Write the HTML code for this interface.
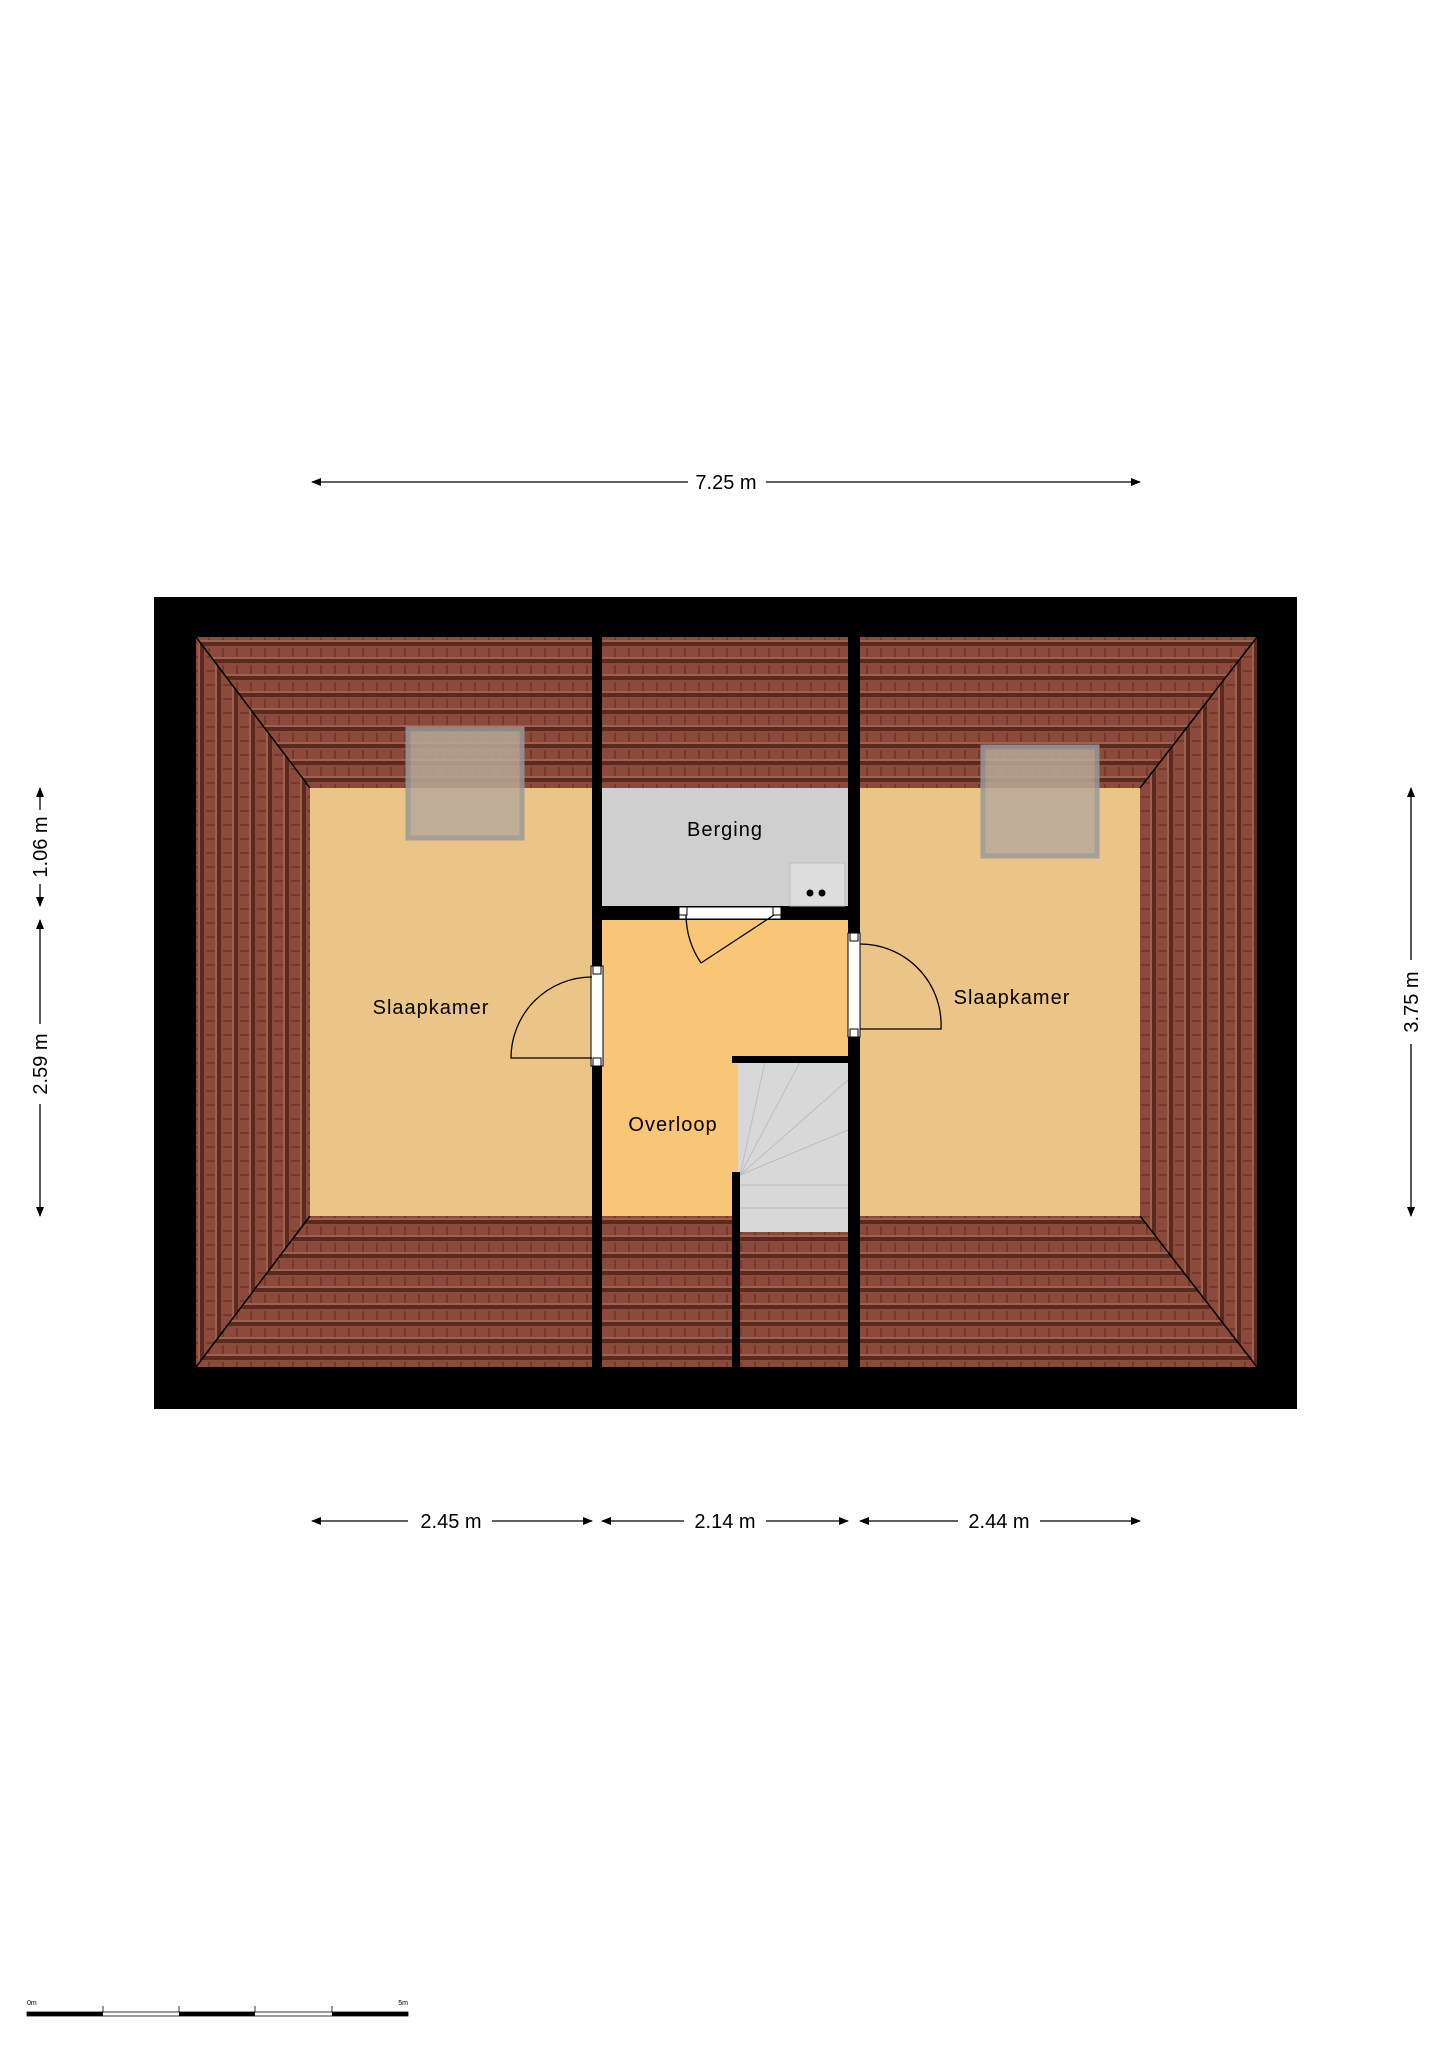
<!DOCTYPE html>
<html><head><meta charset="utf-8"><style>html,body{margin:0;padding:0;background:#fff}svg{display:block}</style></head><body>
<svg width="1448" height="2048" viewBox="0 0 1448 2048" xmlns="http://www.w3.org/2000/svg" font-family="Liberation Sans, sans-serif">
<defs>
<pattern id="th" width="14" height="17" patternUnits="userSpaceOnUse">
<rect width="14" height="17" fill="#8b4a3b"/>
<rect y="13" width="14" height="4" fill="#5a2a20"/>
<rect x="12" y="2" width="2" height="11" fill="#74392c"/>
<rect y="11" width="14" height="2" fill="#a0604e"/>
</pattern>
<pattern id="tv" width="17" height="14" patternUnits="userSpaceOnUse">
<rect width="17" height="14" fill="#8b4a3b"/>
<rect x="13" width="4" height="14" fill="#5a2a20"/>
<rect x="2" y="12" width="11" height="2" fill="#74392c"/>
<rect x="11" width="2" height="14" fill="#a0604e"/>
</pattern>
<marker id="ar" markerWidth="10" markerHeight="8" refX="9" refY="4" orient="auto-start-reverse" markerUnits="userSpaceOnUse"><path d="M0,0 L10,4 L0,8z" fill="#000"/></marker>
</defs>
<rect x="154" y="597" width="1143" height="812" fill="#000"/>
<!-- roof -->
<rect x="196" y="637" width="1061" height="730" fill="url(#th)"/>
<polygon points="196,637 310,788 310,1216 196,1367" fill="url(#tv)"/>
<polygon points="1257,637 1140,788 1140,1216 1257,1367" fill="url(#tv)"/>
<g stroke="#000" stroke-width="1.5"><line x1="196" y1="637" x2="310" y2="788"/><line x1="196" y1="1367" x2="310" y2="1216"/><line x1="1257" y1="637" x2="1140" y2="788"/><line x1="1257" y1="1367" x2="1140" y2="1216"/></g>
<!-- floors -->
<rect x="310" y="788" width="282" height="428" fill="#ebc487"/>
<rect x="860" y="788" width="280" height="428" fill="#ebc487"/>
<rect x="602" y="788" width="246" height="118" fill="#cfcfcf"/>
<rect x="602" y="920" width="246" height="296" fill="#f9c678"/>
<!-- stairs -->
<rect x="738" y="1062" width="110" height="170" fill="#d8d8d8"/>
<g stroke="#bdbdbd" stroke-width="1" fill="none"><line x1="740" y1="1175" x2="765" y2="1062"/><line x1="740" y1="1175" x2="800" y2="1062"/><line x1="740" y1="1175" x2="848" y2="1080"/><line x1="740" y1="1175" x2="848" y2="1130"/><line x1="740" y1="1185" x2="848" y2="1185"/><line x1="740" y1="1208" x2="848" y2="1208"/></g>
<!-- walls -->
<rect x="592" y="637" width="10" height="730" fill="#000"/>
<rect x="848" y="637" width="12" height="730" fill="#000"/>
<rect x="602" y="906" width="246" height="14" fill="#000"/>
<rect x="732" y="1056" width="116" height="7" fill="#000"/>
<rect x="732" y="1172" width="8" height="195" fill="#000"/>
<!-- skylights -->
<rect x="408" y="729" width="114" height="109" fill="#b9a99a" stroke="#999" stroke-width="5" opacity="0.85"/>
<rect x="983" y="747" width="114" height="109" fill="#b9a99a" stroke="#999" stroke-width="5" opacity="0.85"/>
<!-- boiler -->
<rect x="790" y="863" width="55" height="43" fill="#ddd" stroke="#bbb"/>
<circle cx="810" cy="893" r="3.5" fill="#000"/><circle cx="822" cy="893" r="3.5" fill="#000"/>
<!-- doors -->
<g fill="#fff" stroke="#000" stroke-width="1">
<rect x="679" y="907" width="102" height="12"/><rect x="679" y="907" width="8" height="8"/><rect x="773" y="907" width="8" height="8"/>
<rect x="591" y="966" width="12" height="100"/><rect x="593" y="966" width="8" height="8"/><rect x="593" y="1058" width="8" height="8"/>
<rect x="848" y="933" width="12" height="104"/><rect x="850" y="933" width="8" height="8"/><rect x="850" y="1029" width="8" height="8"/>
</g>
<g fill="none" stroke="#000" stroke-width="1.3">
<path d="M774,915 L701,963 M686,915 A88,88 0 0 0 701,963"/>
<path d="M592,1058 L511,1058 A81,81 0 0 1 592,977"/>
<path d="M860,1029 L941,1029 A81,81 0 0 0 860,944"/>
</g>
<!-- labels -->
<g font-size="20" fill="#000" text-anchor="middle" letter-spacing="1">
<text x="431" y="1014">Slaapkamer</text>
<text x="1012" y="1004">Slaapkamer</text>
<text x="725" y="836">Berging</text>
<text x="673" y="1131">Overloop</text>
</g>
<!-- dimensions -->
<g stroke="#000" stroke-width="1.3" marker-start="url(#ar)" marker-end="url(#ar)">
<line x1="312" y1="482" x2="688" y2="482" marker-end="none"/><line x1="766" y1="482" x2="1140" y2="482" marker-start="none"/>
<line x1="312" y1="1521" x2="408" y2="1521" marker-end="none"/><line x1="492" y1="1521" x2="592" y2="1521" marker-start="none"/>
<line x1="602" y1="1521" x2="684" y2="1521" marker-end="none"/><line x1="766" y1="1521" x2="848" y2="1521" marker-start="none"/>
<line x1="860" y1="1521" x2="958" y2="1521" marker-end="none"/><line x1="1040" y1="1521" x2="1140" y2="1521" marker-start="none"/>
<line x1="40" y1="788" x2="40" y2="810" marker-end="none"/><line x1="40" y1="884" x2="40" y2="906" marker-start="none"/>
<line x1="40" y1="920" x2="40" y2="1024" marker-end="none"/><line x1="40" y1="1104" x2="40" y2="1216" marker-start="none"/>
<line x1="1411" y1="788" x2="1411" y2="960" marker-end="none"/><line x1="1411" y1="1044" x2="1411" y2="1216" marker-start="none"/>
</g>
<g font-size="20" fill="#000" text-anchor="middle">
<text x="726" y="489">7.25 m</text>
<text x="451" y="1528">2.45 m</text><text x="725" y="1528">2.14 m</text><text x="999" y="1528">2.44 m</text>
<text transform="translate(47,847) rotate(-90)">1.06 m</text>
<text transform="translate(47,1064) rotate(-90)">2.59 m</text>
<text transform="translate(1418,1002) rotate(-90)">3.75 m</text>
</g>
<!-- scale bar -->
<g>
<rect x="27" y="2012" width="381" height="4" fill="#fff" stroke="#000" stroke-width="0.8"/>
<rect x="27" y="2012" width="76" height="4" fill="#000"/><rect x="179" y="2012" width="76" height="4" fill="#000"/><rect x="332" y="2012" width="76" height="4" fill="#000"/>
<g stroke="#000" stroke-width="0.8"><line x1="103" y1="2006" x2="103" y2="2012"/><line x1="179" y1="2006" x2="179" y2="2012"/><line x1="255" y1="2006" x2="255" y2="2012"/><line x1="332" y1="2006" x2="332" y2="2012"/></g>
<text x="27" y="2005" font-size="7">0m</text><text x="408" y="2005" font-size="7" text-anchor="end">5m</text>
</g>
</svg>
</body></html>
